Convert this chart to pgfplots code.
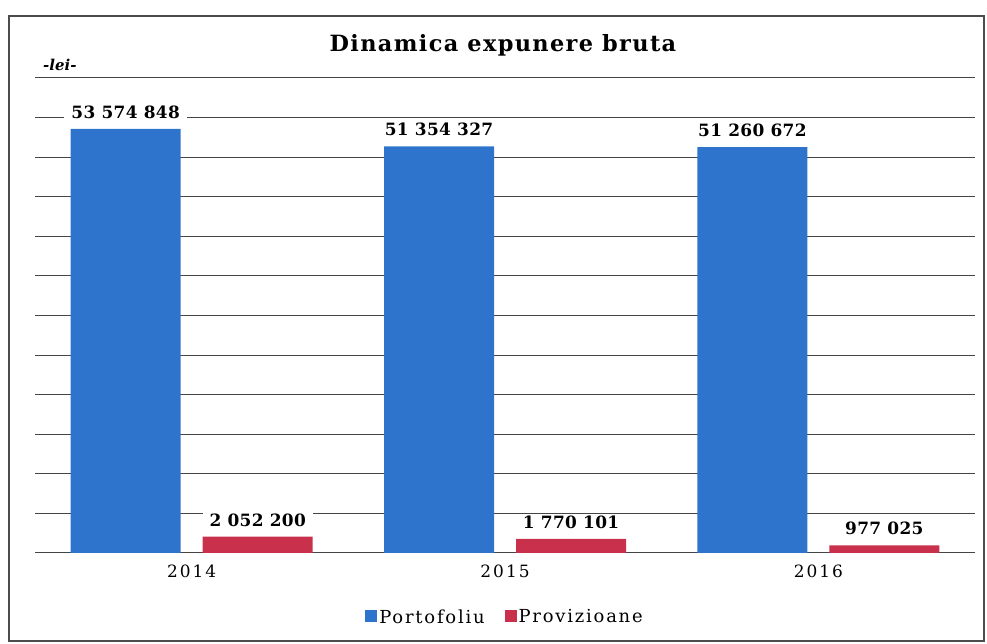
\documentclass[border=0pt]{standalone}
\usepackage{fontspec}
\setmainfont{DejaVu Serif}
\newfontfamily\titlefont[LetterSpace=6]{DejaVu Serif}
\newfontfamily\labfont[LetterSpace=2]{DejaVu Serif}
\newfontfamily\tickfont[LetterSpace=12]{DejaVu Serif}
\newfontfamily\legfont[LetterSpace=10]{DejaVu Serif}
\usepackage{pgfplots}
\pgfplotsset{compat=1.18}
\definecolor{portblue}{HTML}{2E74CD}
\definecolor{provred}{HTML}{C8304C}
\definecolor{gridgray}{HTML}{454545}
\begin{document}
\begin{tikzpicture}[x=1bp,y=1bp]
\begin{axis}[
  name=ax, at={(0,0)}, anchor=south west,
  scale only axis, width=940bp, height=475bp,
  ybar=22bp, bar width=110bp,
  xmin=-0.5, xmax=2.5, ymin=0, ymax=60000000,
  enlargelimits=false,
  scaled y ticks=false,
  ytick={0,5000000,10000000,15000000,20000000,25000000,30000000,35000000,40000000,45000000,50000000,55000000,60000000},
  yticklabels={},
  ymajorgrids,
  grid style={gridgray, line width=1bp},
  axis line style={draw=none},
  major tick length=0pt,
  xtick={0,1,2},
  xticklabels={2014,2015,2016},
  xticklabel style={font=\tickfont\fontsize{17}{19}\selectfont, yshift=-8bp},
  point meta=explicit symbolic,
  nodes near coords,
  every node near coord/.append style={font=\labfont\fontsize{17}{19}\selectfont\bfseries, fill=white, inner xsep=7bp, inner ysep=2bp, yshift=8bp},
  legend style={at={(0.5,-0.135)}, anchor=center, draw=none, fill=none,
    legend columns=2, font=\legfont\fontsize{18}{20}\selectfont,
    /tikz/every even column/.append style={column sep=18bp}},
  legend image code/.code={\draw[#1,draw=none] (0bp,-5bp) rectangle (12bp,7bp);},
]
\addplot[fill=portblue, draw=none] coordinates {
  (0,53574848) [53 574 848]
  (1,51354327) [51 354 327]
  (2,51260672) [51 260 672]
};
\addplot[fill=provred, draw=none] coordinates {
  (0,2052200) [2 052 200]
  (1,1770101) [1 770 101]
  (2,977025) [977 025]
};
\legend{Portofoliu, Provizioane}
\end{axis}
\pgfresetboundingbox
\begin{scope}[shift={(ax.south west)}, xshift=-35bp, yshift=-91bp]
\useasboundingbox (0,0) rectangle (987,644);
\draw[black!70, line width=1.2bp] (9,3) rectangle (984,628);
\node[font=\titlefont\fontsize{22.5}{25}\selectfont\bfseries, anchor=base] at (503,592) {Dinamica expunere bruta};
\node[font=\fontsize{15}{17}\selectfont\bfseries\itshape, anchor=base west, inner sep=0] at (43,573) {-lei-};
\end{scope}
\end{tikzpicture}
\end{document}
